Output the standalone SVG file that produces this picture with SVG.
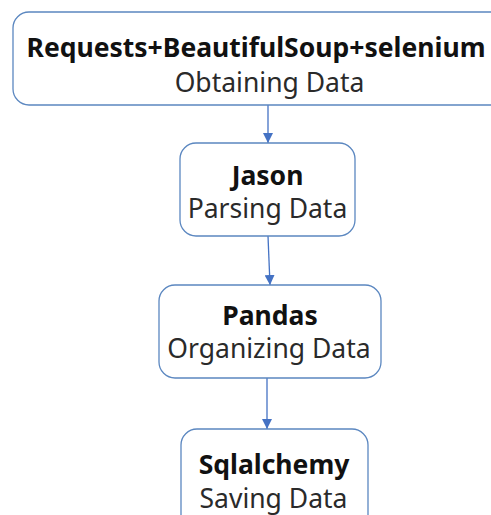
<svg xmlns="http://www.w3.org/2000/svg" width="491" height="515" viewBox="0 0 491 515">
  <defs>
    <marker id="arrow" viewBox="0 0 10 10" refX="10" refY="5" markerWidth="10" markerHeight="10" markerUnits="userSpaceOnUse" orient="auto">
      <path d="M0,0 L10,5 L0,10 z" fill="#4472c4"/>
    </marker>
  </defs>
  <style>
    .box { fill: #ffffff; stroke: #5b87c0; stroke-width: 1.3; }
    .title { font-family: "Noto Sans", "Open Sans", sans-serif; font-weight: bold; font-size: 26.5px; fill: #111111; text-anchor: middle; }
    .sub { font-family: "Noto Sans", "Open Sans", sans-serif; font-size: 26.5px; fill: #2a2a2a; text-anchor: middle; }
    .conn { stroke: #4472c4; stroke-width: 1.3; fill: none; marker-end: url(#arrow); }
  </style>
  <rect width="491" height="515" fill="#ffffff"/>

  <g id="connectors">
    <line class="conn" x1="268" y1="105" x2="268" y2="143"/>
    <line class="conn" x1="268" y1="236" x2="270" y2="285"/>
    <line class="conn" x1="267" y1="378" x2="267" y2="429"/>
  </g>

  <g id="obtaining">
    <rect class="box" x="13" y="12" width="500" height="93" rx="16"/>
    <text class="title" x="256" y="57">Requests+BeautifulSoup+selenium</text>
    <text class="sub" x="269.5" y="92">Obtaining Data</text>
  </g>

  <g id="parsing">
    <rect class="box" x="180" y="143" width="175" height="93" rx="16"/>
    <text class="title" x="267.5" y="185">Jason</text>
    <text class="sub" x="267.5" y="218">Parsing Data</text>
  </g>

  <g id="organizing">
    <rect class="box" x="159" y="285" width="222" height="93" rx="16"/>
    <text class="title" x="270" y="325">Pandas</text>
    <text class="sub" x="269" y="358">Organizing Data</text>
  </g>

  <g id="saving">
    <rect class="box" x="181" y="429" width="187" height="120" rx="16"/>
    <text class="title" x="274" y="474">Sqlalchemy</text>
    <text class="sub" x="273.5" y="508">Saving Data</text>
  </g>
</svg>
